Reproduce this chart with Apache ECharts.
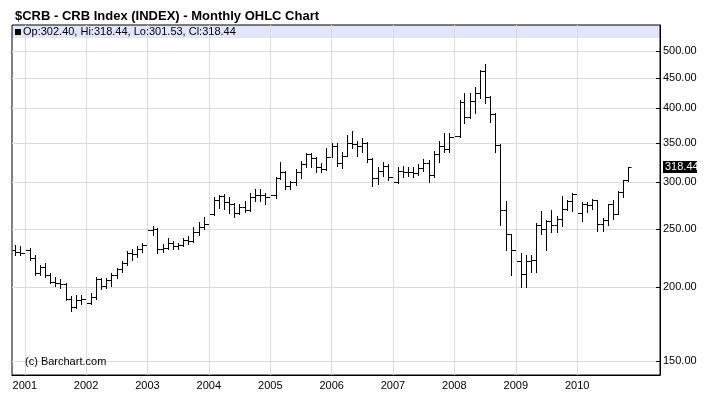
<!DOCTYPE html>
<html>
<head>
<meta charset="utf-8">
<script src="https://cdn.jsdelivr.net/npm/echarts@6/dist/echarts.min.js"></script>
<style>
html, body { margin: 0; padding: 0; background: #fff; }
#chart { width: 709px; height: 398px; }
</style>
</head>
<body>
<div id="chart"></div>
<script>
// monthly bars, Nov 2000 .. Nov 2010
var firstMonth = [2000, 10]; // year, month index (0 = Jan)
var opens = [231, 229,
  228, 231, 224, 211, 216, 209, 204, 203, 202, 191, 185, 190,
  191, 188, 192, 206, 201, 205, 209, 214, 219, 228, 227, 232,
  235, 249, 250, 232, 233, 237, 234, 235, 240, 239, 247, 252,
  255, 265, 280, 285, 278, 276, 266, 273, 270, 284, 286, 286,
  284, 286, 305, 313, 296, 300, 313, 322, 335, 330, 318, 316,
  331, 346, 323, 333, 350, 348, 346, 350, 328, 305, 314, 320,
  307, 300, 314, 312, 313, 311, 317, 324, 309, 335, 346, 341,
  358, 359, 410, 387, 411, 424, 462, 418, 392, 347, 270, 246,
  231, 221, 210, 221, 222, 254, 250, 258, 254, 260, 271, 279,
  287, 266, 276, 275, 280, 255, 259, 276, 265, 289, 302.40];
var highs = [235, 234,
  234, 233, 226, 218, 219, 211, 208, 206, 203, 193, 194, 194,
  193, 195, 208, 207, 207, 211, 215, 221, 230, 232, 234, 237,
  250, 253, 251, 236, 242, 239, 237, 242, 244, 252, 257, 262,
  272, 283, 286, 287, 283, 277, 276, 279, 288, 293, 293, 288,
  288, 307, 325, 314, 302, 316, 326, 337, 337, 331, 324, 343,
  350, 350, 338, 361, 366, 352, 357, 351, 330, 318, 325, 322,
  309, 318, 320, 318, 318, 322, 328, 327, 339, 352, 364, 364,
  373, 413, 424, 424, 435, 464, 475, 420, 393, 348, 279, 246,
  240, 228, 226, 226, 256, 268, 259, 270, 263, 285, 280, 288,
  295, 278, 278, 281, 280, 261, 276, 280, 290, 303, 318.44];
var lows = [226, 226,
  226, 222, 209, 209, 208, 203, 201, 199, 190, 182, 184, 187,
  186, 187, 191, 198, 199, 201, 207, 212, 218, 222, 225, 229,
  234, 245, 228, 229, 232, 232, 232, 234, 236, 238, 245, 250,
  255, 264, 272, 271, 266, 262, 265, 267, 269, 279, 279, 276,
  276, 282, 304, 293, 292, 297, 305, 318, 318, 313, 313, 315,
  331, 320, 317, 332, 343, 332, 338, 325, 296, 298, 308, 303,
  285, 299, 306, 308, 307, 309, 314, 300, 307, 325, 338, 338,
  349, 358, 378, 385, 393, 416, 408, 379, 338, 254, 231, 209,
  205, 200, 200, 212, 212, 246, 231, 247, 247, 253, 270, 268,
  266, 258, 267, 271, 248, 248, 254, 260, 265, 283, 301.53];
var closes = [229, 228,
  231, 224, 211, 216, 209, 204, 203, 202, 191, 185, 190, 191,
  188, 192, 206, 201, 205, 209, 214, 219, 228, 227, 232, 235,
  249, 250, 232, 233, 237, 234, 235, 240, 239, 247, 252, 255,
  265, 280, 285, 278, 276, 266, 273, 270, 284, 286, 286, 284,
  286, 305, 313, 296, 300, 313, 322, 335, 330, 318, 316, 331,
  346, 323, 333, 350, 348, 346, 350, 328, 305, 314, 320, 307,
  300, 314, 312, 313, 311, 317, 324, 309, 335, 346, 341, 358,
  359, 410, 387, 411, 424, 462, 418, 392, 347, 270, 246, 231,
  221, 210, 221, 222, 254, 250, 258, 254, 260, 271, 279, 287,
  266, 276, 275, 280, 255, 259, 276, 265, 289, 302.40, 318.44];
var priceTicks = [150, 200, 250, 300, 350, 400, 450, 500];
var years = [2001, 2002, 2003, 2004, 2005, 2006, 2007, 2008, 2009, 2010];

var chart = echarts.init(document.getElementById('chart'));

var bars = [];
for (var i = 0; i < closes.length; i++) {
  var t = new Date(firstMonth[0], firstMonth[1] + i, 1).getTime();
  bars.push([t, opens[i], highs[i], lows[i], closes[i]]);
}
var last = bars.length - 1;
var DAY = 24 * 3600 * 1000;
var yearLines = years.map(function (y) { return { xAxis: new Date(y, 0, 1).getTime() }; });

function renderBar(params, api) {
  var t = api.value(0);
  var o = api.coord([t, api.value(1)]);
  var h = api.coord([t, api.value(2)]);
  var l = api.coord([t, api.value(3)]);
  var c = api.coord([t, api.value(4)]);
  var x = Math.round(o[0]) + 0.5;
  var st = { stroke: '#000', lineWidth: 1 };
  return {
    type: 'group',
    children: [
      { type: 'line', shape: { x1: x, y1: Math.round(h[1]), x2: x, y2: Math.round(l[1]) + 1 }, style: st },
      { type: 'line', shape: { x1: x - 3, y1: Math.round(o[1]) + 0.5, x2: x, y2: Math.round(o[1]) + 0.5 }, style: st },
      { type: 'line', shape: { x1: x, y1: Math.round(c[1]) + 0.5, x2: x + 3, y2: Math.round(c[1]) + 0.5 }, style: st }
    ]
  };
}

var option = {
  animation: false,
  textStyle: { fontFamily: 'Arial' },
  grid: {
    left: 12, right: 49, top: 25, bottom: 23,
    show: true, borderColor: '#000', borderWidth: 1
  },
  title: {
    text: '$CRB - CRB Index (INDEX) - Monthly OHLC Chart',
    left: 10, top: 5,
    textStyle: { fontSize: 13, fontWeight: 'bold', color: '#000', fontFamily: 'Arial' }
  },
  xAxis: {
    type: 'time',
    min: new Date(2000, 9, 17).getTime(),
    max: new Date(2011, 4, 9).getTime(),
    minInterval: 365 * DAY,
    maxInterval: 366 * DAY,
    axisLine: { lineStyle: { color: '#000' } },
    axisTick: { show: false },
    axisLabel: {
      color: '#000', fontSize: 11, margin: 5,
      formatter: function (v) {
        var y = new Date(v).getFullYear();
        return years.indexOf(y) >= 0 ? String(y) : '';
      }
    },
    splitLine: { show: false }
  },
  yAxis: {
    type: 'log',
    logBase: 10,
    position: 'right',
    min: 142,
    max: 553,
    axisLine: { show: true, lineStyle: { color: '#000' } },
    axisTick: { show: true, inside: true, length: 4, customValues: priceTicks, lineStyle: { color: '#000' } },
    axisLabel: {
      customValues: priceTicks,
      color: '#000', fontSize: 11, margin: 3,
      formatter: function (v) { return Number(v).toFixed(2); }
    },
    splitLine: { show: true, lineStyle: { color: '#dcdcdc', width: 1 } }
  },
  graphic: [
    { type: 'rect', z: -1, shape: { x: 12, y: 25, width: 648, height: 13 }, style: { fill: '#e4e4fa' } },
    { type: 'rect', z: 0, shape: { x: 661, y: 24, width: 48, height: 16 }, style: { fill: '#fff' } },
    { type: 'rect', z: 10, shape: { x: 15, y: 29, width: 6, height: 6 }, style: { fill: '#000' } },
    { type: 'text', z: 10, x: 23, y: 32, style: {
        text: 'Op:' + opens[last].toFixed(2) + ', Hi:' + highs[last].toFixed(2) + ', Lo:' + lows[last].toFixed(2) + ', Cl:' + closes[last].toFixed(2),
        font: '11px Arial', fill: '#000', verticalAlign: 'middle' } },
    { type: 'text', z: 10, x: 25, y: 362, style: { text: '(c) Barchart.com', font: '11px Arial', fill: '#000', verticalAlign: 'middle' } }
  ],
  series: [{
    // vertical year grid lines
    type: 'line',
    z: 1,
    data: [],
    silent: true,
    markLine: {
      silent: true,
      symbol: 'none',
      label: { show: false },
      lineStyle: { color: '#dcdcdc', width: 1, type: 'solid' },
      data: yearLines
    }
  }, {
    type: 'custom',
    z: 3,
    renderItem: renderBar,
    clip: true,
    encode: { x: 0, y: [1, 2, 3, 4] },
    data: bars
  }]
};
chart.setOption(option);

// last price tag on the right axis
var tagY = chart.convertToPixel({ yAxisIndex: 0 }, closes[last]);
chart.setOption({
  graphic: option.graphic.concat([
    { type: 'rect', z: 20, shape: { x: 663, y: Math.round(tagY) - 6, width: 34, height: 12 }, style: { fill: '#000' } },
    { type: 'text', z: 21, x: 665, y: Math.round(tagY), style: { text: closes[last].toFixed(2), font: '11px Arial', fill: '#fff', verticalAlign: 'middle' } }
  ])
});
</script>
</body>
</html>
